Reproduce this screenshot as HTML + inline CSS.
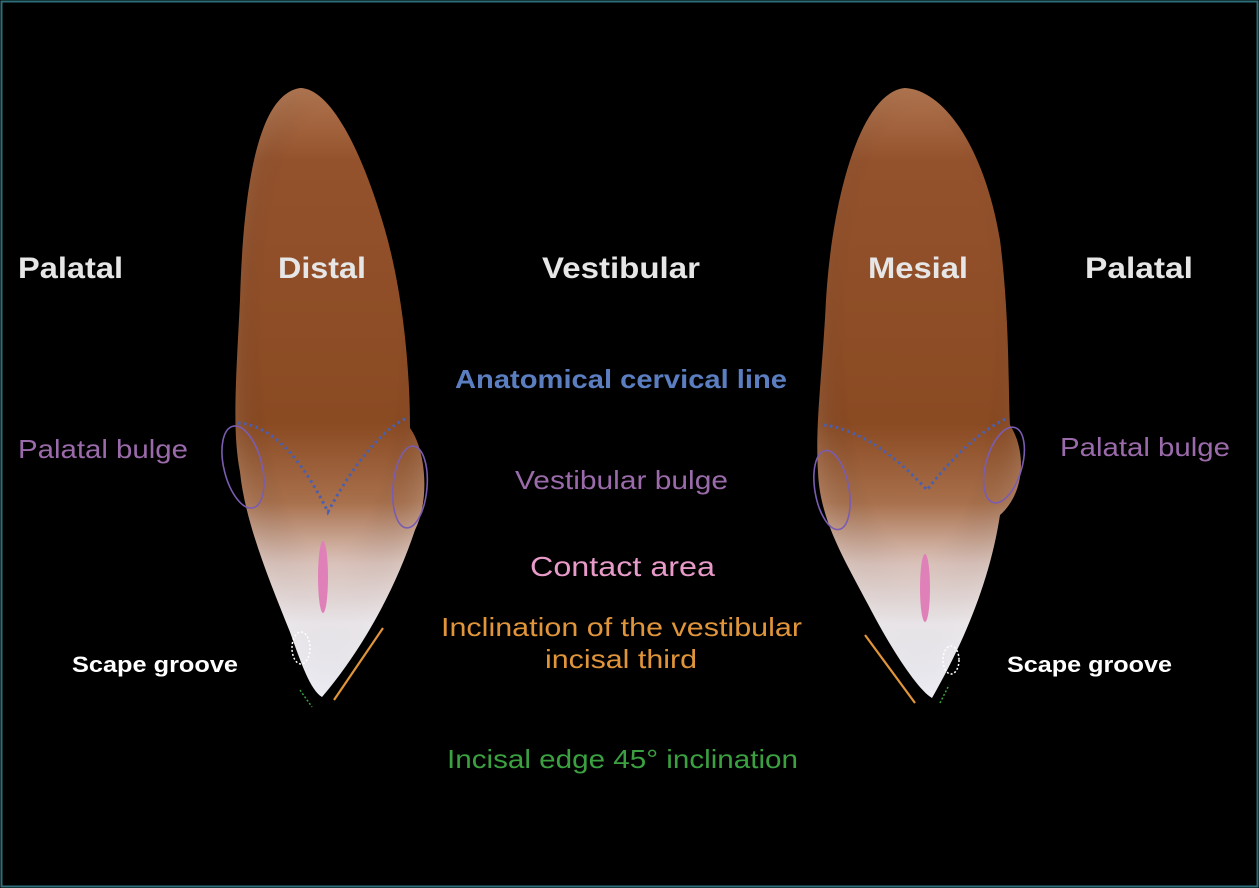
<!DOCTYPE html>
<html><head><meta charset="utf-8"><style>
html,body{margin:0;padding:0;background:#000;}
svg{display:block;}
text{font-family:"Liberation Sans",sans-serif;}
</style></head><body>
<svg width="1259" height="888" viewBox="0 0 1259 888" xmlns="http://www.w3.org/2000/svg">
<defs>
<linearGradient id="tg" x1="0" y1="0" x2="0" y2="1">
<stop offset="0" stop-color="#b07550"/>
<stop offset="0.12" stop-color="#94522c"/>
<stop offset="0.55" stop-color="#8a4a22"/>
<stop offset="0.68" stop-color="#a8704c"/>
<stop offset="0.78" stop-color="#dcc4bc"/>
<stop offset="0.88" stop-color="#f2eef2"/>
<stop offset="1" stop-color="#e8e8f0"/>
</linearGradient>
<radialGradient id="edge" cx="0.5" cy="0.4" r="0.6">
<stop offset="0.6" stop-color="#000" stop-opacity="0"/>
<stop offset="1" stop-color="#fff" stop-opacity="0.18"/>
</radialGradient>
</defs>
<rect x="0" y="0" width="1259" height="888" fill="#000"/>
<rect x="1.5" y="1.5" width="1256" height="885" fill="none" stroke="#2d6f78" stroke-width="2"/>

<path d="M300,88 C330,88 362,150 385,230 C405,300 410,380 410,428 C426,450 430,500 415,530 C395,590 362,650 322,697 C310,690 300,660 290,632 C270,582 245,522 240,472 C232,430 236,380 240,300 C243,200 255,95 300,88 Z" fill="url(#tg)"/>
<path d="M300,88 C330,88 362,150 385,230 C405,300 410,380 410,428 C426,450 430,500 415,530 C395,590 362,650 322,697 C310,690 300,660 290,632 C270,582 245,522 240,472 C232,430 236,380 240,300 C243,200 255,95 300,88 Z" fill="url(#edge)"/>
<path d="M905,88 C945,90 985,150 1000,240 C1010,320 1008,390 1010,425 C1026,450 1026,492 1000,515 C990,580 965,640 932,698 C918,690 892,650 872,612 C846,562 820,522 818,472 C815,422 822,380 826,300 C832,200 860,92 905,88 Z" fill="url(#tg)"/>
<path d="M905,88 C945,90 985,150 1000,240 C1010,320 1008,390 1010,425 C1026,450 1026,492 1000,515 C990,580 965,640 932,698 C918,690 892,650 872,612 C846,562 820,522 818,472 C815,422 822,380 826,300 C832,200 860,92 905,88 Z" fill="url(#edge)"/>

<path d="M238,423 C270,425 300,455 328,512 C350,470 380,430 407,418" fill="none" stroke="#4a5fb0" stroke-width="3" stroke-dasharray="2.5,3.5"/>
<path d="M824,425 C860,430 895,455 927,490 C950,460 980,430 1008,418" fill="none" stroke="#4a5fb0" stroke-width="3" stroke-dasharray="2.5,3.5"/>

<g fill="none" stroke="#7a5cb0" stroke-width="1.6">
<ellipse cx="243" cy="467" rx="19" ry="42" transform="rotate(-14 243 467)"/>
<ellipse cx="410" cy="487" rx="17" ry="41" transform="rotate(5 410 487)"/>
<ellipse cx="832" cy="490" rx="17" ry="40" transform="rotate(-10 832 490)"/>
<ellipse cx="1004" cy="465" rx="18" ry="39" transform="rotate(16 1004 465)"/>
</g>
<ellipse cx="323" cy="577" rx="5" ry="36" fill="#e080b8"/>
<ellipse cx="925" cy="588" rx="5" ry="34" fill="#e080b8"/>
<line x1="334" y1="700" x2="383" y2="628" stroke="#e0953a" stroke-width="2.2"/>
<line x1="865" y1="635" x2="915" y2="703" stroke="#e0953a" stroke-width="2.2"/>
<ellipse cx="301" cy="648" rx="9" ry="16" fill="none" stroke="#fff" stroke-width="1.5" stroke-dasharray="2,2"/>
<ellipse cx="951" cy="660" rx="8" ry="14" fill="none" stroke="#fff" stroke-width="1.5" stroke-dasharray="2,2"/>
<line x1="300" y1="690" x2="312" y2="707" stroke="#3aa040" stroke-width="1.5" stroke-dasharray="2,2"/>
<line x1="940" y1="703" x2="949" y2="685" stroke="#3aa040" stroke-width="1.5" stroke-dasharray="2,2"/>

<g font-weight="bold" font-size="30" fill="#e6e6e6" lengthAdjust="spacingAndGlyphs">
<text x="18" y="278" textLength="105" lengthAdjust="spacingAndGlyphs">Palatal</text>
<text x="278" y="278" textLength="88" lengthAdjust="spacingAndGlyphs">Distal</text>
<text x="542" y="278" textLength="158" lengthAdjust="spacingAndGlyphs">Vestibular</text>
<text x="868" y="278" textLength="100" lengthAdjust="spacingAndGlyphs">Mesial</text>
<text x="1085" y="278" textLength="108" lengthAdjust="spacingAndGlyphs">Palatal</text>
</g>
<text x="455" y="388" textLength="332" lengthAdjust="spacingAndGlyphs" font-size="26" font-weight="bold" fill="#5b7ec0">Anatomical cervical line</text>
<g font-size="26" fill="#9a6aaa">
<text x="18" y="458" textLength="170" lengthAdjust="spacingAndGlyphs">Palatal bulge</text>
<text x="515" y="489" textLength="213" lengthAdjust="spacingAndGlyphs">Vestibular bulge</text>
<text x="1060" y="456" textLength="170" lengthAdjust="spacingAndGlyphs">Palatal bulge</text>
</g>
<text x="530" y="576" textLength="185" lengthAdjust="spacingAndGlyphs" font-size="28" fill="#e89ac8">Contact area</text>
<g font-size="26" fill="#e0953a">
<text x="441" y="636" textLength="361" lengthAdjust="spacingAndGlyphs">Inclination of the vestibular</text>
<text x="545" y="668" textLength="152" lengthAdjust="spacingAndGlyphs">incisal third</text>
</g>
<g font-size="22" font-weight="bold" fill="#fff">
<text x="72" y="672" textLength="166" lengthAdjust="spacingAndGlyphs">Scape groove</text>
<text x="1007" y="672" textLength="165" lengthAdjust="spacingAndGlyphs">Scape groove</text>
</g>
<text x="447" y="768" textLength="351" lengthAdjust="spacingAndGlyphs" font-size="26" fill="#3aa040">Incisal edge 45° inclination</text>
</svg>
</body></html>
